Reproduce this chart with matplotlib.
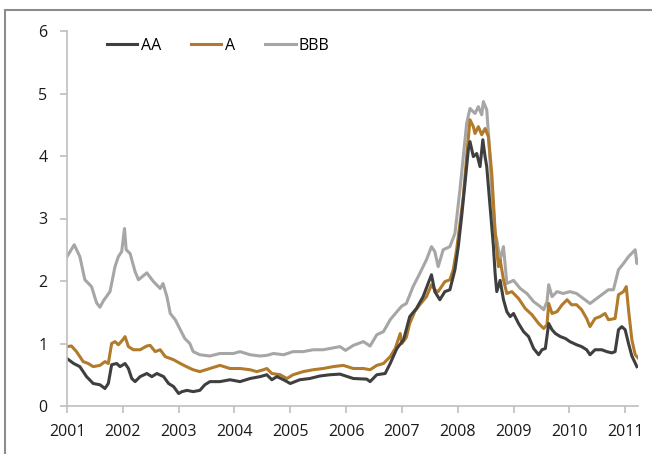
import matplotlib.pyplot as plt
from matplotlib.patches import Rectangle

# values (year fraction, spread %)
aa_x = [2001.00, 2001.12, 2001.23, 2001.35, 2001.47, 2001.59, 2001.68, 2001.74, 2001.80, 2001.89,
        2001.95, 2002.04, 2002.10, 2002.16, 2002.22, 2002.31, 2002.43, 2002.52, 2002.61, 2002.73,
        2002.82, 2002.91, 2003.00, 2003.06, 2003.15, 2003.26, 2003.38, 2003.47, 2003.56, 2003.74,
        2003.92, 2004.10, 2004.28, 2004.46, 2004.58, 2004.67, 2004.76, 2004.88, 2005.00, 2005.17,
        2005.35, 2005.53, 2005.71, 2005.89, 2006.13, 2006.37, 2006.43, 2006.55, 2006.70, 2006.79,
        2006.91, 2007.03, 2007.14, 2007.26, 2007.38, 2007.47, 2007.53, 2007.59, 2007.68, 2007.77,
        2007.86, 2007.95, 2008.01, 2008.07, 2008.13, 2008.19, 2008.22, 2008.28, 2008.34, 2008.40,
        2008.45, 2008.49, 2008.52, 2008.58, 2008.64, 2008.67, 2008.70, 2008.76, 2008.82, 2008.88,
        2008.94, 2009.00, 2009.09, 2009.18, 2009.27, 2009.36, 2009.45, 2009.51, 2009.57, 2009.63,
        2009.69, 2009.75, 2009.84, 2009.93, 2010.01, 2010.13, 2010.22, 2010.31, 2010.37, 2010.46,
        2010.58, 2010.67, 2010.76, 2010.82, 2010.88, 2010.94, 2011.00, 2011.06, 2011.12, 2011.21]
aa_y = [0.76, 0.68, 0.63, 0.47, 0.36, 0.34, 0.28, 0.36, 0.66, 0.68,
        0.63, 0.68, 0.60, 0.44, 0.39, 0.47, 0.52, 0.47, 0.52, 0.47,
        0.36, 0.31, 0.20, 0.23, 0.25, 0.23, 0.25, 0.34, 0.39, 0.39,
        0.42, 0.39, 0.44, 0.47, 0.50, 0.42, 0.47, 0.42, 0.36, 0.42,
        0.44, 0.48, 0.50, 0.51, 0.44, 0.43, 0.39, 0.50, 0.52, 0.68,
        0.92, 1.06, 1.43, 1.56, 1.75, 1.96, 2.10, 1.83, 1.70, 1.83,
        1.86, 2.18, 2.55, 3.03, 3.56, 4.10, 4.23, 3.99, 4.04, 3.83,
        4.26, 3.99, 3.83, 3.19, 2.55, 2.12, 1.83, 2.01, 1.70, 1.51,
        1.43, 1.48, 1.32, 1.19, 1.11, 0.92, 0.82, 0.90, 0.92, 1.32,
        1.22, 1.16, 1.11, 1.08, 1.03, 0.98, 0.95, 0.90, 0.82, 0.90,
        0.90, 0.87, 0.85, 0.87, 1.22, 1.27, 1.22, 1.00, 0.80, 0.63]

a_x = [2001.00, 2001.08, 2001.17, 2001.29, 2001.38, 2001.47, 2001.59, 2001.68, 2001.74, 2001.80,
       2001.86, 2001.92, 2002.00, 2002.04, 2002.10, 2002.19, 2002.31, 2002.43, 2002.49, 2002.58,
       2002.67, 2002.76, 2002.91, 2003.03, 2003.14, 2003.26, 2003.38, 2003.56, 2003.74, 2003.92,
       2004.10, 2004.28, 2004.40, 2004.52, 2004.58, 2004.67, 2004.82, 2004.94, 2005.05, 2005.23,
       2005.41, 2005.59, 2005.77, 2005.95, 2006.13, 2006.31, 2006.43, 2006.55, 2006.67, 2006.79,
       2006.88, 2006.97, 2007.00, 2007.08, 2007.14, 2007.23, 2007.32, 2007.44, 2007.53, 2007.59,
       2007.65, 2007.77, 2007.86, 2007.92, 2007.98, 2008.04, 2008.10, 2008.16, 2008.22, 2008.28,
       2008.31, 2008.37, 2008.43, 2008.49, 2008.55, 2008.61, 2008.67, 2008.71, 2008.73, 2008.76,
       2008.82, 2008.88, 2008.97, 2009.09, 2009.21, 2009.33, 2009.45, 2009.54, 2009.60, 2009.63,
       2009.69, 2009.78, 2009.87, 2009.96, 2010.04, 2010.13, 2010.22, 2010.31, 2010.37, 2010.46,
       2010.55, 2010.64, 2010.70, 2010.82, 2010.88, 2010.97, 2011.02, 2011.06, 2011.12, 2011.18,
       2011.24]
a_y = [0.95, 0.96, 0.87, 0.71, 0.68, 0.63, 0.65, 0.71, 0.68, 1.00,
       1.03, 0.98, 1.06, 1.11, 0.95, 0.90, 0.90, 0.96, 0.97, 0.87,
       0.90, 0.79, 0.74, 0.68, 0.63, 0.58, 0.55, 0.60, 0.65, 0.60,
       0.60, 0.58, 0.55, 0.58, 0.60, 0.52, 0.50, 0.44, 0.50, 0.55,
       0.58, 0.60, 0.63, 0.65, 0.60, 0.60, 0.58, 0.65, 0.68, 0.79,
       0.92, 1.16, 1.00, 1.10, 1.32, 1.51, 1.62, 1.75, 1.94, 1.86,
       1.83, 1.99, 2.02, 2.18, 2.50, 2.92, 3.35, 3.99, 4.58, 4.47,
       4.36, 4.47, 4.34, 4.44, 4.31, 3.72, 2.80, 2.40, 2.23, 2.34,
       2.02, 1.80, 1.83, 1.72, 1.56, 1.46, 1.32, 1.24, 1.30, 1.64,
       1.48, 1.51, 1.62, 1.70, 1.62, 1.62, 1.54, 1.40, 1.27, 1.40,
       1.43, 1.48, 1.38, 1.40, 1.78, 1.83, 1.91, 1.54, 1.06, 0.82,
       0.76]

bbb_x = [2001.00, 2001.13, 2001.23, 2001.32, 2001.44, 2001.53, 2001.59, 2001.65, 2001.77, 2001.86,
         2001.92, 2001.98, 2002.03, 2002.06, 2002.13, 2002.22, 2002.28, 2002.43, 2002.55, 2002.67,
         2002.72, 2002.79, 2002.85, 2002.94, 2003.03, 2003.11, 2003.20, 2003.26, 2003.38, 2003.56,
         2003.74, 2003.98, 2004.10, 2004.28, 2004.46, 2004.58, 2004.70, 2004.88, 2005.05, 2005.23,
         2005.41, 2005.59, 2005.71, 2005.89, 2005.99, 2006.13, 2006.31, 2006.43, 2006.55, 2006.67,
         2006.79, 2006.94, 2007.00, 2007.08, 2007.20, 2007.32, 2007.44, 2007.53, 2007.59, 2007.65,
         2007.74, 2007.86, 2007.95, 2008.04, 2008.10, 2008.16, 2008.22, 2008.31, 2008.37, 2008.43,
         2008.46, 2008.52, 2008.55, 2008.61, 2008.67, 2008.70, 2008.76, 2008.82, 2008.88, 2009.00,
         2009.12, 2009.24, 2009.36, 2009.48, 2009.54, 2009.60, 2009.63, 2009.69, 2009.78, 2009.89,
         2010.01, 2010.13, 2010.25, 2010.37, 2010.49, 2010.61, 2010.70, 2010.79, 2010.88, 2010.97,
         2011.06, 2011.18, 2011.21, 2011.23]
bbb_y = [2.39, 2.58, 2.39, 2.02, 1.91, 1.65, 1.58, 1.68, 1.83, 2.23,
         2.39, 2.47, 2.84, 2.50, 2.44, 2.15, 2.02, 2.13, 1.99, 1.88,
         1.96, 1.75, 1.48, 1.38, 1.22, 1.08, 1.00, 0.87, 0.82, 0.80,
         0.84, 0.84, 0.87, 0.82, 0.80, 0.81, 0.84, 0.82, 0.87, 0.87,
         0.90, 0.90, 0.92, 0.95, 0.89, 0.97, 1.03, 0.96, 1.14, 1.19,
         1.38, 1.54, 1.60, 1.64, 1.91, 2.12, 2.34, 2.55, 2.47, 2.23,
         2.50, 2.55, 2.76, 3.46, 3.99, 4.52, 4.76, 4.68, 4.79, 4.66,
         4.87, 4.74, 4.36, 3.46, 2.76, 2.66, 2.34, 2.55, 1.96, 2.01,
         1.88, 1.80, 1.67, 1.59, 1.54, 1.67, 1.94, 1.75, 1.83, 1.80,
         1.83, 1.80, 1.72, 1.64, 1.72, 1.80, 1.86, 1.86, 2.18, 2.28,
         2.39, 2.50, 2.28, 2.34]

years = list(range(2001, 2012))

plt.rcParams['font.family'] = ['Open Sans', 'DejaVu Sans']

fig = plt.figure(figsize=(6.52, 4.54), dpi=100)
ax = fig.add_axes([67 / 652, 1 - 406 / 454, (638 - 67) / 652, (406 - 31) / 454])

l_bbb, = ax.plot(bbb_x, bbb_y, color='#a6a6a6', lw=2.2, label='BBB')
l_a, = ax.plot(a_x, a_y, color='#b27b2c', lw=2.2, label='A')
l_aa, = ax.plot(aa_x, aa_y, color='#3f3f3f', lw=2.2, label='AA')

ax.set_xlim(2001, 2011.23)
ax.set_ylim(0, 6)
ax.set_xticks(years)
ax.set_xticklabels([str(y) for y in years])
ax.set_yticks(range(0, 7))

for side in ['top', 'right']:
    ax.spines[side].set_visible(False)
for side in ['left', 'bottom']:
    ax.spines[side].set_color('#bfbfbf')
    ax.spines[side].set_linewidth(1.2)
ax.tick_params(axis='both', colors='#bfbfbf', labelcolor='#1a1a1a', labelsize=11.5,
               length=5, width=1.2)
ax.tick_params(axis='x', pad=8)
ax.tick_params(axis='y', pad=9)

fig.legend(handles=[l_aa, l_a, l_bbb], labels=['AA', 'A', 'BBB'], ncol=3,
           loc='center left', bbox_to_anchor=(107 / 652, 1 - 46 / 454),
           frameon=False, fontsize=11.5, handlelength=1.9, handletextpad=0.2,
           columnspacing=1.9, borderpad=0, borderaxespad=0)

# outer chart border, cut off at the right and bottom like the reference
fig.add_artist(Rectangle((5 / 652, -0.1), 1.2, 1.1 - 10 / 454, transform=fig.transFigure,
                         fill=False, ec='#8c8c8c', lw=1.5))

fig.savefig('out.png', dpi=100)
